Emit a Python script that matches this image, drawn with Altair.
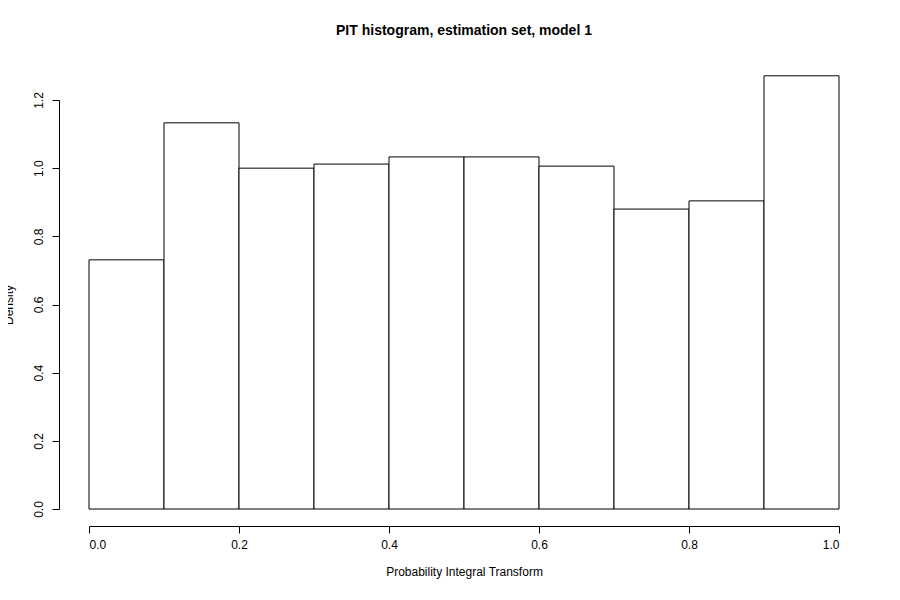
import pandas as pd
import altair as alt

bin_start = [0.0, 0.1, 0.2, 0.3, 0.4, 0.5, 0.6, 0.7, 0.8, 0.9]
bin_end = [0.1, 0.2, 0.3, 0.4, 0.5, 0.6, 0.7, 0.8, 0.9, 1.0]
density = [0.731, 1.133, 1.000, 1.012, 1.033, 1.033, 1.006, 0.880, 0.904, 1.271]

df = pd.DataFrame({"start": bin_start, "end": bin_end, "density": density, "base": 0.0})

font = "Liberation Sans"

chart = alt.Chart(df).mark_rect(fill="white", stroke="black", strokeWidth=1, clip=False).encode(
    x=alt.X("start:Q", scale=alt.Scale(domain=[0, 1], nice=False),
            axis=alt.Axis(values=[0, 0.2, 0.4, 0.6, 0.8, 1.0], format=".1f", offset=17,
                          title="Probability Integral Transform", titlePadding=16,
                          tickSize=7, labelPadding=6, grid=False)),
    x2="end:Q",
    y=alt.Y("density:Q", scale=alt.Scale(domain=[0, 1.2], nice=False),
            axis=alt.Axis(values=[0, 0.2, 0.4, 0.6, 0.8, 1.0, 1.2], format=".1f", offset=30,
                          labelAngle=-90, labelAlign="center", labelBaseline="bottom",
                          title="Density", titlePadding=17,
                          tickSize=7, labelPadding=7, grid=False)),
    y2="base:Q",
).properties(
    width=750, height=409,
    autosize=alt.AutoSizeParams(type="none"),
    padding={"left": 81, "top": 92, "right": 50, "bottom": 80},
    title=alt.TitleParams("PIT histogram, estimation set, model 1", font=font,
                          fontSize=14, fontWeight="bold", offset=37, anchor="middle"),
).configure_view(stroke=None).configure_axis(
    labelFont=font, titleFont=font, labelFontSize=12, titleFontSize=12,
    titleFontWeight="normal", domainColor="black", tickColor="black",
    labelColor="black", titleColor="black",
)

chart.save("out.html", embed_options={"renderer": "svg", "actions": False})
